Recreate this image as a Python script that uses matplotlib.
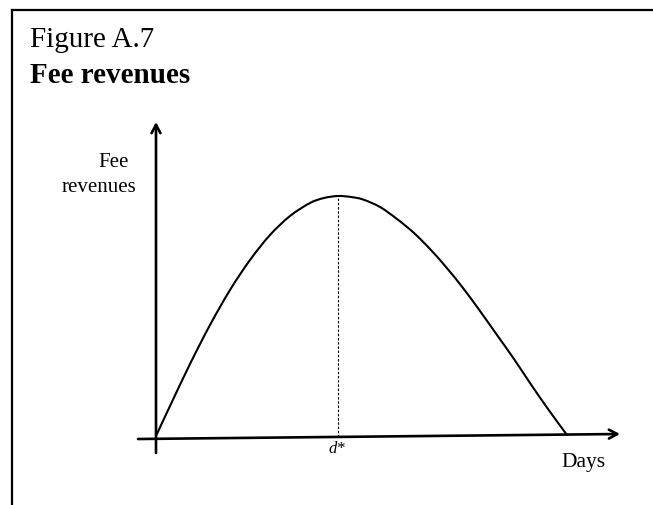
import matplotlib
matplotlib.use("Agg")
import matplotlib.pyplot as plt
from matplotlib.lines import Line2D
from matplotlib.path import Path
from matplotlib.patches import PathPatch

# Fee revenue as a function of the number of days (schematic units)
days = [0, 14, 34, 54, 74, 94, 114, 134, 154, 168, 182, 195, 207, 224, 241, 258,
        274, 290, 307, 324, 341, 358, 374, 392, 411]
revenue = [1, 31, 73, 112, 147, 177, 202, 221, 234, 239, 241, 240, 237.5, 230, 218, 204,
           188, 170, 149, 126, 102, 78, 54, 28, 2]
d_star = 182
peak_revenue = 241

title_line1 = "Figure A.7"
title_line2 = "Fee revenues"
y_label = ["Fee", "revenues"]
x_label = "Days"
peak_label = "d*"


def smooth_path(xs, ys):
    """Catmull-Rom curve through the points, expressed as cubic Bezier segments."""
    pts = list(zip(xs, ys))
    verts = [pts[0]]
    codes = [Path.MOVETO]
    n = len(pts)
    for i in range(n - 1):
        p0 = pts[i - 1] if i > 0 else pts[i]
        p1 = pts[i]
        p2 = pts[i + 1]
        p3 = pts[i + 2] if i + 2 < n else pts[i + 1]
        c1 = (p1[0] + (p2[0] - p0[0]) / 6, p1[1] + (p2[1] - p0[1]) / 6)
        c2 = (p2[0] - (p3[0] - p1[0]) / 6, p2[1] - (p3[1] - p1[1]) / 6)
        verts += [c1, c2, p2]
        codes += [Path.CURVE4] * 3
    return Path(verts, codes)


W, H = 653, 505
fig = plt.figure(figsize=(W / 100, H / 100), dpi=100)
fig.patch.set_facecolor("white")
ax = fig.add_axes([0, 0, 1, 1])
ax.set_xlim(-156, W - 156)
ax.set_ylim(-(H - 437), 437)
ax.axis("off")

serif = "Liberation Serif"

# Outer frame (left and top edges)
fig.add_artist(Line2D([12 / W, 12 / W], [0, 1 - 9.5 / H], transform=fig.transFigure,
                      color="black", lw=1.6))
fig.add_artist(Line2D([12 / W, 1], [1 - 9.5 / H, 1 - 9.5 / H], transform=fig.transFigure,
                      color="black", lw=1.6))

# Titles
fig.text(30 / W, 1 - 47 / H, title_line1, family=serif, fontsize=21, ha="left",
         va="baseline")
fig.text(30 / W, 1 - 83 / H, title_line2, family=serif, fontsize=21,
         fontweight="bold", ha="left", va="baseline")

# Axes with arrowheads
arrow = dict(arrowstyle="->,head_length=0.6,head_width=0.32", color="black", lw=1.9,
             shrinkA=0, shrinkB=0)
ax.annotate("", xy=(0, 315), xytext=(0, -16), arrowprops=arrow)
ax.annotate("", xy=(464, 3), xytext=(-18, -2), arrowprops=arrow)

# Revenue curve
ax.add_patch(PathPatch(smooth_path(days, revenue), facecolor="none", edgecolor="black",
                       lw=1.5, capstyle="round", joinstyle="round"))

# Peak marker line
ax.plot([d_star, d_star], [0, peak_revenue], color="black", lw=0.8,
        linestyle=(0, (2.2, 1.6)))

# Labels
ax.text(129 - 156, 437 - 167, y_label[0], family=serif, fontsize=15, ha="right",
        va="baseline")
ax.text(136 - 156, 437 - 192, y_label[1], family=serif, fontsize=15, ha="right",
        va="baseline")
ax.text(583 - 156, 437 - 467, x_label, family=serif, fontsize=15.5, ha="center",
        va="baseline")
ax.text(d_star - 1, 437 - 453, peak_label, family=serif, fontsize=12, style="italic",
        ha="center", va="baseline")

fig.savefig("out.png", dpi=100, facecolor="white")
